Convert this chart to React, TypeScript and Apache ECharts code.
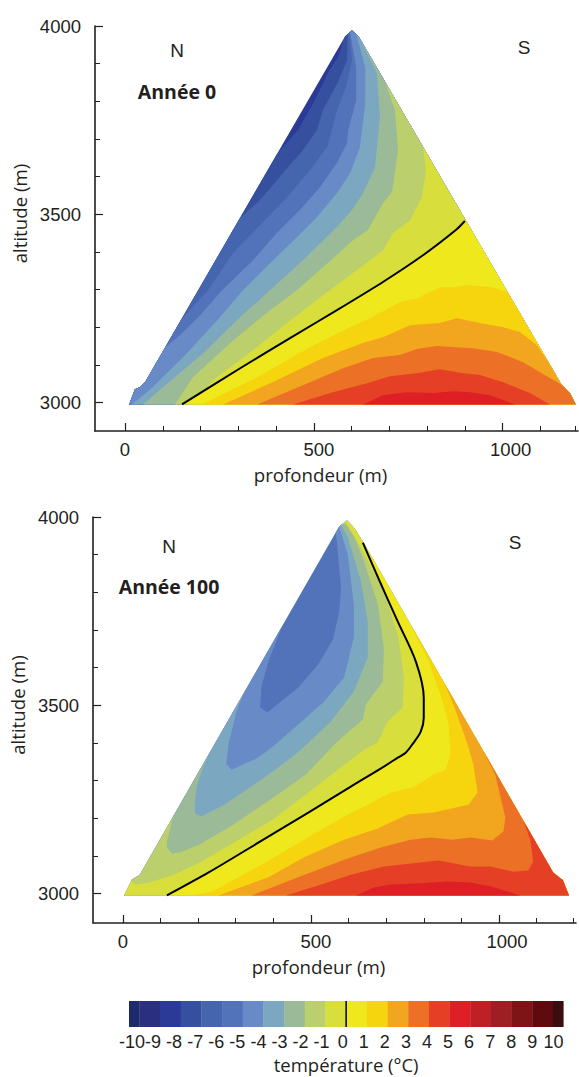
import React, { useEffect, useRef } from "react";
import * as echarts from "echarts";

type Pt = number[];

// ---------- Année 0: outline of the massif (depth m, altitude m), clockwise from the summit
const outline0: Pt[] = [[601,3989],[620,3970],[1155,3049],[1178,3025],[1194,2995],[11,2995],[26,3035],[40,3041],[53,3054],[583,3973]];
const bandA0: Pt[] = [[402,3662],[458,3723],[503,3803],[538,3877],[564,3917],[585,3968]];
const bandB0: Pt[] = [[305,3489],[357,3537],[418,3609],[471,3670],[508,3723],[524,3776],[564,3851],[588,3909],[593,3975]];
const bandC0: Pt[] = [[146,3224],[220,3298],[286,3397],[357,3471],[429,3545],[490,3617],[535,3678],[548,3723],[561,3776],[585,3837],[601,3909],[596,3980]];
const bandD0: Pt[] = [[106,3144],[146,3179],[199,3232],[257,3298],[339,3378],[402,3450],[463,3511],[516,3572],[561,3636],[588,3689],[591,3723],[612,3803],[612,3891],[597,3983]];
const bandE0: Pt[] = [[16,2995],[32,3006],[74,3041],[164,3131],[252,3227],[312,3298],[384,3370],[455,3439],[508,3492],[561,3556],[596,3609],[622,3678],[636,3795],[636,3891],[612,3978]];
const bandF0: Pt[] = [[48,2995],[101,3041],[207,3131],[305,3227],[384,3298],[471,3378],[561,3466],[601,3511],[630,3556],[662,3625],[675,3758],[667,3875],[620,3968]];
const bandG0: Pt[] = [[132,2995],[180,3067],[286,3165],[384,3245],[455,3298],[569,3399],[604,3431],[643,3458],[683,3529],[707,3559],[723,3670],[715,3776],[683,3851]];
const bandH0: Pt[] = [[180,2995],[233,3059],[339,3139],[429,3211],[535,3293],[643,3373],[683,3404],[710,3450],[755,3484],[786,3545],[797,3617],[789,3678]];
const zero0: Pt[] = [[151,2995],[305,3091],[437,3171],[569,3250],[683,3320],[789,3391],[876,3458],[900,3482]];
const bandJ0: Pt[] = [[204,2995],[350,3067],[490,3147],[596,3200],[649,3224],[728,3266],[776,3277],[789,3285],[834,3306],[874,3306],[906,3312],[974,3306],[1014,3293]];
const bandK0: Pt[] = [[260,2995],[402,3059],[524,3118],[630,3158],[683,3173],[755,3205],[834,3211],[879,3224],[940,3211],[1001,3200],[1046,3187],[1091,3152],[1125,3107]];
const bandL0: Pt[] = [[350,2995],[471,3046],[577,3091],[657,3118],[728,3126],[773,3142],[826,3150],[921,3144],[985,3134],[1054,3107],[1125,3065],[1157,3046]];
const bandM0: Pt[] = [[445,2995],[543,3025],[641,3051],[702,3070],[773,3078],[834,3088],[895,3078],[940,3073],[1001,3054],[1072,3025],[1125,2995]];
const bandN0: Pt[] = [[630,2995],[683,3019],[747,3027],[816,3025],[869,3030],[914,3027],[967,3019],[1033,2995]];

// ---------- Année 100
const outline100: Pt[] = [[596,3991],[614,3972],[638,3935],[1144,3056],[1170,3035],[1186,2995],[3,2995],[24,3037],[45,3050],[575,3975]];
const bandD100: Pt[] = [[421,3714],[387,3616],[368,3547],[365,3494],[384,3481],[466,3547],[519,3608],[559,3675],[575,3749],[580,3813],[567,3959]];
const bandE100: Pt[] = [[323,3529],[302,3483],[281,3398],[275,3343],[289,3329],[360,3361],[402,3393],[466,3449],[535,3510],[588,3574],[614,3680],[614,3768],[598,3900],[575,3975]];
const bandF100: Pt[] = [[228,3369],[209,3324],[196,3282],[191,3236],[193,3212],[209,3205],[270,3236],[360,3297],[448,3361],[482,3390],[553,3457],[614,3537],[651,3627],[651,3722],[633,3829],[598,3946],[580,3980]];
const bandG100: Pt[] = [[132,3205],[117,3138],[117,3122],[130,3106],[151,3109],[204,3130],[294,3183],[400,3255],[487,3316],[564,3398],[638,3462],[646,3502],[691,3563],[694,3653],[678,3768],[641,3882],[606,3972],[585,3985]];
const bandH100: Pt[] = [[26,3032],[32,3024],[71,3029],[135,3050],[204,3082],[294,3135],[400,3197],[514,3284],[641,3382],[678,3401],[704,3457],[744,3494],[747,3574],[733,3680],[694,3802],[633,3919],[606,3962],[590,3988]];
const zero100: Pt[] = [[117,2995],[228,3056],[360,3135],[493,3215],[606,3284],[694,3337],[731,3361],[752,3374],[771,3398],[792,3430],[800,3467],[800,3520],[779,3616],[731,3722],[683,3829],[638,3932]];
const bandJ100: Pt[] = [[183,2995],[236,3005],[360,3072],[482,3143],[598,3210],[651,3236],[712,3268],[773,3282],[826,3316],[858,3329],[871,3369],[866,3449],[853,3502],[813,3616],[765,3722]];
const bandK100: Pt[] = [[254,2995],[387,3043],[482,3096],[588,3143],[678,3173],[757,3210],[826,3215],[919,3236],[943,3268],[932,3343],[916,3398],[879,3502],[855,3555]];
const bandL100: Pt[] = [[342,2995],[466,3043],[588,3090],[686,3122],[765,3143],[818,3149],[876,3143],[924,3149],[982,3141],[1012,3165],[1017,3202],[990,3316],[961,3377]];
const bandM100: Pt[] = [[434,2995],[527,3024],[606,3050],[694,3072],[784,3082],[839,3088],[924,3072],[977,3072],[1038,3058],[1078,3061],[1091,3085],[1083,3143],[1064,3191]];
const bandN100: Pt[] = [[620,2995],[667,3016],[712,3024],[792,3027],[863,3032],[924,3029],[977,3019],[1057,2995]];

// ---------- Colour scale
const scaleEdges = [-10.5,-10,-9,-8,-7,-6,-5,-4,-3,-2,-1,0,1,2,3,4,5,6,7,8,9,10,10.5];
const scaleLabels = [-10,-9,-8,-7,-6,-5,-4,-3,-2,-1,0,1,2,3,4,5,6,7,8,9,10];
const palette = ["#1f2a6e","#2a2f7f","#2a3a96","#36509f","#4565af","#5272b9","#688ac6","#7ba7c0","#9bba97","#bbd06c","#d8df3c","#efe81c","#f6d40e","#f2a51e","#ec7025","#e53f25","#df1f26","#bf2025","#9d1f23","#7f1416","#5f0b0e","#3a0e0e"];

// ---------- Axis ticks
const depthMajor = [0, 500, 1000];
const depthMinor0 = [100,200,300,400,600,700,800,900,1100,1192];
const depthMinor100 = [100,200,300,400,600,700,800,900,1100,1197];
const altMajor = [3000, 3500, 4000];
const altMinor = [3100,3200,3300,3400,3600,3700,3800,3900];

const digitFont = "'Liberation Sans', Arial, sans-serif";
const titleFont = "'Open Sans', sans-serif";
const ink = "#231f20";
const plain = (v: number) => String(v);
const digitStyle = { color: ink, fontFamily: digitFont, fontSize: 18.5 };
const depthLabel = (v: number) => (v === 0 ? "{a|0}" : v === 500 ? "{b|500}" : `{c|${v}}`);

function locate(p: Pt, outline: Pt[]) {
  let best = { seg: 0, t: 0, q: outline[0], d: Infinity };
  outline.forEach((a, i) => {
    const b = outline[(i + 1) % outline.length];
    const dx = b[0] - a[0], dy = b[1] - a[1];
    const t = Math.max(0, Math.min(1, ((p[0] - a[0]) * dx + (p[1] - a[1]) * dy) / (dx * dx + dy * dy)));
    const q = [a[0] + t * dx, a[1] + t * dy];
    const d = (q[0] - p[0]) ** 2 + (q[1] - p[1]) ** 2;
    if (d < best.d) best = { seg: i, t, q, d };
  });
  return best;
}

// region warmer than an isotherm: the isotherm, then the outline walked clockwise back to its start
function warmRegion(curve: Pt[], outline: Pt[]): Pt[] {
  const n = outline.length;
  const s = locate(curve[0], outline);
  const e = locate(curve[curve.length - 1], outline);
  const pts: Pt[] = [s.q, ...curve.slice(1, -1), e.q];
  let count = (s.seg - e.seg + n) % n;
  if (count === 0 && s.seg + s.t < e.seg + e.t) count = n;
  for (let j = 1; j <= count; j++) pts.push(outline[(e.seg + j) % n]);
  return pts;
}

function contourSeries(name: string, base: number, outline: Pt[], layers: [Pt[], number][], axis: number) {
  const polys: { pts: Pt[]; color: string }[] = [
    { pts: outline, color: palette[base] },
    ...layers.map(([c, k]) => ({ pts: warmRegion(c, outline), color: palette[k] })),
  ];
  return {
    type: "custom",
    name,
    xAxisIndex: axis,
    yAxisIndex: axis,
    clip: false,
    silent: true,
    z: 2,
    data: polys.map((_, i) => [i, 3500]),
    renderItem: (_p: any, api: any) => {
      const poly = polys[api.value(0)];
      return {
        type: "polygon",
        shape: { points: poly.pts.map((v) => api.coord(v)) },
        style: { fill: poly.color, stroke: null },
      };
    },
  };
}

function zeroLine(name: string, data: Pt[], axis: number) {
  return {
    type: "line",
    name,
    xAxisIndex: axis,
    yAxisIndex: axis,
    data,
    smooth: 0.3,
    showSymbol: false,
    silent: true,
    z: 5,
    clip: false,
    lineStyle: { color: "#000", width: 2 },
  };
}

function panelAxes(grid: number, xMin: number, xMax: number, yMin: number, minor: number[]) {
  const line = { show: true, onZero: false, lineStyle: { color: ink, width: 1.6 } };
  const hidden = { show: false, onZero: false };
  const major = { show: true, inside: true, length: 8, lineStyle: { color: ink, width: 1.2 } };
  const small = { show: true, inside: true, length: 5, lineStyle: { color: ink, width: 1 } };
  return {
    x: [
      {
        type: "value", gridIndex: grid, min: xMin, max: xMax, position: "bottom", splitLine: { show: false },
        axisLine: line,
        axisTick: { ...major, customValues: depthMajor },
        axisLabel: {
          show: true, margin: 9, customValues: depthMajor, formatter: depthLabel, ...digitStyle,
          rich: {
            a: { ...digitStyle },
            b: { ...digitStyle, padding: [0, 0, 0, 10] },
            c: { ...digitStyle, padding: [0, 0, 0, 16] },
          },
        },
        name: "profondeur (m)", nameLocation: "middle", nameGap: 34,
        nameTextStyle: { color: ink, fontFamily: titleFont, fontSize: 18.7, padding: [0, 32, 0, 0] },
      },
      {
        type: "value", gridIndex: grid, min: xMin, max: xMax, position: "bottom", splitLine: { show: false },
        axisLine: hidden, axisLabel: { show: false },
        axisTick: { ...small, customValues: minor },
      },
    ],
    y: [
      {
        type: "value", gridIndex: grid, min: yMin, max: 4000, position: "left", splitLine: { show: false },
        axisLine: line,
        axisTick: { ...major, customValues: altMajor },
        axisLabel: { show: true, margin: 14, customValues: altMajor, formatter: plain, ...digitStyle },
        name: "altitude (m)", nameLocation: "middle", nameGap: 66,
        nameTextStyle: { color: ink, fontFamily: titleFont, fontSize: 18.7, padding: [0, 0, 0, 30] },
      },
      {
        type: "value", gridIndex: grid, min: yMin, max: 4000, position: "left", splitLine: { show: false },
        axisLine: hidden, axisLabel: { show: false },
        axisTick: { ...small, customValues: altMinor },
      },
    ],
  };
}

function note(text: string, x: number, y: number, bold = false) {
  return {
    type: "text",
    x,
    y,
    style: {
      text,
      fill: ink,
      fontFamily: bold ? titleFont : digitFont,
      fontWeight: bold ? 700 : 400,
      fontSize: bold ? 19.5 : 19,
      textAlign: "center",
      textVerticalAlign: "middle",
    },
  };
}

export default function App() {
  const ref = useRef<HTMLDivElement>(null);
  useEffect(() => {
    const chart = echarts.init(ref.current!, null, { renderer: "svg" });
    const a0 = panelAxes(0, -79.4, 1199.5, 2924.3, depthMinor0);
    const a100 = panelAxes(1, -79.4, 1204.8, 2921.7, depthMinor100);
    const cells = scaleEdges.slice(0, -1).map((lo, i) => [lo, scaleEdges[i + 1], i]);

    chart.setOption({
      animation: false,
      backgroundColor: "#fff",
      grid: [
        { left: 95, top: 26, width: 483, height: 405 },
        { left: 91, top: 517, width: 485, height: 406 },
        { left: 129, top: 1001, width: 434.3, height: 26 },
      ],
      xAxis: [
        ...a0.x,
        ...a100.x,
        { type: "value", gridIndex: 2, min: -10.5, max: 10.5, show: false },
        {
          type: "value", gridIndex: 2, min: -10.14, max: 10.47, position: "bottom", splitLine: { show: false },
          axisLine: { show: false, onZero: false }, axisTick: { show: false },
          axisLabel: {
            show: true, customValues: scaleLabels, formatter: plain, color: ink, fontFamily: digitFont, fontSize: 18,
            margin: 6, hideOverlap: false, showMinLabel: true, showMaxLabel: true,
          },
          name: "température (°C)", nameLocation: "middle", nameGap: 28,
          nameTextStyle: { color: ink, fontFamily: titleFont, fontSize: 18.5 },
        },
      ],
      yAxis: [
        ...a0.y,
        ...a100.y,
        { type: "value", gridIndex: 2, min: 0, max: 1, show: false },
      ],
      series: [
        contourSeries("Année 0", 2, outline0, [
          [bandA0, 3],[bandB0, 4],[bandC0, 5],[bandD0, 6],[bandE0, 7],[bandF0, 8],[bandG0, 9],[bandH0, 10],
          [zero0, 11],[bandJ0, 12],[bandK0, 13],[bandL0, 14],[bandM0, 15],[bandN0, 16],
        ], 0),
        zeroLine("isotherme 0 °C, année 0", zero0, 0),
        contourSeries("Année 100", 5, outline100, [
          [bandD100, 6],[bandE100, 7],[bandF100, 8],[bandG100, 9],[bandH100, 10],
          [zero100, 11],[bandJ100, 12],[bandK100, 13],[bandL100, 14],[bandM100, 15],[bandN100, 16],
        ], 2),
        zeroLine("isotherme 0 °C, année 100", zero100, 2),
        {
          type: "custom",
          name: "échelle",
          xAxisIndex: 4,
          yAxisIndex: 4,
          silent: true,
          data: cells,
          renderItem: (_p: any, api: any) => {
            const a = api.coord([api.value(0), 1]);
            const b = api.coord([api.value(1), 0]);
            return {
              type: "rect",
              shape: { x: a[0], y: a[1], width: b[0] - a[0] + 0.3, height: b[1] - a[1] },
              style: { fill: palette[api.value(2)] },
            };
          },
        },
        {
          type: "line",
          name: "0 °C",
          xAxisIndex: 4,
          yAxisIndex: 4,
          data: [[0, 0],[0, 1]],
          showSymbol: false,
          silent: true,
          z: 5,
          lineStyle: { color: "#000", width: 1.5 },
        },
      ],
      graphic: [
        note("N", 177, 50),
        note("S", 524, 47),
        note("Année 0", 177, 91, true),
        note("N", 169, 546),
        note("S", 515, 542),
        note("Année 100", 169, 586, true),
      ],
    });
    return () => chart.dispose();
  }, []);
  return <div ref={ref} style={{ position: "absolute", left: 0, top: 0, width: 579, height: 1077 }} />;
}
